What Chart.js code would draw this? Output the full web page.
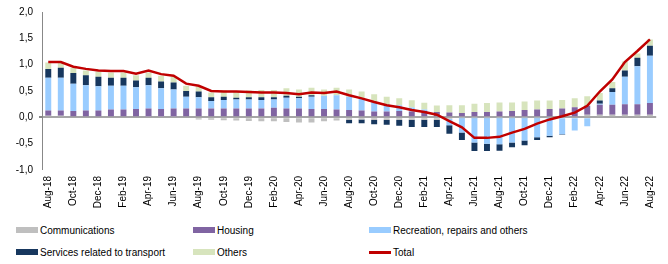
<!DOCTYPE html>
<html>
<head>
<meta charset="utf-8">
<script src="https://cdn.jsdelivr.net/npm/chart.js@4.4.1/dist/chart.umd.min.js"></script>
<style>
  html, body { margin: 0; padding: 0; background: #fff; }
  #wrap { position: relative; width: 668px; height: 264px; }
  #chartBox { position: absolute; left: 0; top: 0; width: 668px; height: 214px; }
  .lg { position: absolute; display: flex; align-items: center; height: 12px;
        font: 10px "Liberation Sans", Arial, sans-serif; color: #000; white-space: nowrap; }
  .lg .sw { width: 22px; height: 6px; margin-right: 2px; }
</style>
</head>
<body>
<div id="wrap">
  <div id="chartBox"><canvas id="chart"></canvas></div>
  <div id="legend"></div>
</div>
<script>
const months = ['Aug-18','Sep-18','Oct-18','Nov-18','Dec-18','Jan-19','Feb-19','Mar-19','Apr-19','May-19','Jun-19','Jul-19',
  'Aug-19','Sep-19','Oct-19','Nov-19','Dec-19','Jan-20','Feb-20','Mar-20','Apr-20','May-20','Jun-20','Jul-20',
  'Aug-20','Sep-20','Oct-20','Nov-20','Dec-20','Jan-21','Feb-21','Mar-21','Apr-21','May-21','Jun-21','Jul-21',
  'Aug-21','Sep-21','Oct-21','Nov-21','Dec-21','Jan-22','Feb-22','Mar-22','Apr-22','May-22','Jun-22','Jul-22','Aug-22'];

const communications = [0.03,0.03,0.02,0.02,0.02,0.02,0.02,0.02,0.01,0.01,0.01,0.00,
  -0.04,-0.045,-0.055,-0.06,-0.07,-0.075,-0.075,-0.09,-0.10,-0.10,-0.075,-0.06,
  -0.05,-0.04,-0.05,-0.05,-0.05,-0.045,-0.045,-0.045,-0.03,-0.01,-0.01,-0.01,
  -0.01,-0.01,-0.01,-0.01,-0.01,0.00,0.02,0.05,0.05,0.05,0.05,0.05,0.05];

const housing = [0.10,0.10,0.10,0.11,0.11,0.13,0.13,0.14,0.16,0.15,0.16,0.17,
  0.17,0.17,0.17,0.17,0.17,0.17,0.18,0.17,0.17,0.16,0.16,0.15,
  0.14,0.13,0.11,0.11,0.12,0.11,0.12,0.10,0.09,0.08,0.10,0.10,
  0.11,0.12,0.14,0.15,0.16,0.17,0.17,0.17,0.19,0.19,0.20,0.20,0.22];

const recreation = [0.62,0.62,0.52,0.48,0.46,0.45,0.45,0.41,0.44,0.39,0.36,0.22,
  0.21,0.14,0.16,0.17,0.17,0.16,0.16,0.20,0.19,0.23,0.25,0.27,
  0.25,0.22,0.19,0.14,0.11,0.075,0.03,0.00,-0.12,-0.28,-0.47,-0.49,
  -0.50,-0.47,-0.43,-0.37,-0.34,-0.32,-0.25,-0.17,0.02,0.24,0.52,0.72,0.90];

const transport = [0.17,0.19,0.20,0.19,0.18,0.15,0.15,0.13,0.14,0.13,0.13,0.11,
  0.11,0.07,0.06,0.03,0.04,0.05,0.04,0.04,0.03,0.03,0.00,0.00,
  -0.06,-0.07,-0.08,-0.09,-0.11,-0.14,-0.14,-0.14,-0.16,-0.14,-0.16,-0.14,
  -0.125,-0.09,-0.09,-0.05,-0.03,-0.01,0.00,0.00,0.06,0.07,0.12,0.16,0.19];

const others = [0.12,0.10,0.10,0.09,0.10,0.10,0.10,0.10,0.10,0.11,0.11,0.10,
  0.09,0.09,0.12,0.13,0.13,0.14,0.14,0.14,0.14,0.14,0.12,0.14,
  0.14,0.14,0.14,0.14,0.13,0.14,0.125,0.125,0.14,0.15,0.16,0.17,
  0.17,0.16,0.16,0.17,0.16,0.16,0.17,0.18,0.14,0.12,0.17,0.08,0.12];

const total = [1.05,1.05,0.96,0.92,0.89,0.88,0.88,0.83,0.89,0.82,0.79,0.64,
  0.60,0.50,0.49,0.49,0.48,0.47,0.47,0.46,0.44,0.47,0.46,0.49,
  0.42,0.36,0.29,0.23,0.19,0.14,0.10,0.05,-0.07,-0.19,-0.39,-0.39,
  -0.37,-0.29,-0.22,-0.12,-0.04,0.02,0.09,0.22,0.49,0.72,1.05,1.26,1.48];

const yTicks = [-1.0, -0.5, 0.0, 0.5, 1.0, 1.5, 2.0];

const font = { family: '"Liberation Sans", Arial, sans-serif', size: 10 };

const bar = (label, data, color) => ({
  type: 'bar', label, data, backgroundColor: color, stack: 'bars', order: 1,
  categoryPercentage: 0.5, barPercentage: 0.95
});

const chart = new Chart(document.getElementById('chart'), {
  data: {
    labels: months,
    datasets: [
      bar('Communications', communications, '#BFBFBF'),
      bar('Housing', housing, '#8064A2'),
      bar('Recreation, repairs and others', recreation, '#99CCFF'),
      bar('Services related to transport', transport, '#17375E'),
      bar('Others', others, '#D7E4BD'),
      {
        type: 'line', label: 'Total', data: total, stack: 'line', order: 0,
        borderColor: '#C00000', borderWidth: 2.5, pointRadius: 0, tension: 0, fill: false
      }
    ]
  },
  options: {
    responsive: true,
    maintainAspectRatio: false,
    animation: false,
    layout: { padding: { top: 9, right: 7, left: 0, bottom: 0 } },
    plugins: { legend: { display: false }, tooltip: { enabled: false } },
    scales: {
      x: {
        stacked: true,
        grid: { display: false, drawTicks: false },
        border: { display: false },
        ticks: {
          autoSkip: false, minRotation: 90, maxRotation: 90, padding: 6,
          color: '#000', font,
          callback: (v, i) => (i % 2 === 0 ? months[i] : '')
        },
        afterFit: s => { s.height = 44; }
      },
      y: {
        stacked: true,
        min: -1, max: 2,
        z: 1,
        afterBuildTicks: s => { s.ticks = yTicks.map(v => ({ value: v })); },
        afterFit: s => { s.width = 42; },
        grid: {
          color: c => (c.tick && c.tick.value === 0 ? '#A6A6A6' : 'rgba(0,0,0,0)'),
          lineWidth: c => (c.tick && c.tick.value === 0 ? 2 : 0),
          tickColor: '#888', tickLength: 3, drawTicks: true
        },
        border: { display: true, color: '#888', width: 1 },
        ticks: {
          color: '#000', font, padding: 6,
          callback: v => v.toFixed(1).replace('.', ',')
        }
      }
    }
  }
});

// legend in three columns, two rows, like the original
const legend = document.getElementById('legend');
const cols = [16, 193, 369];
const rows = [224, 246];
chart.data.datasets.forEach((ds, i) => {
  const item = document.createElement('div');
  item.className = 'lg';
  item.style.left = cols[i % 3] + 'px';
  item.style.top = rows[Math.floor(i / 3)] + 'px';
  const sw = document.createElement('span');
  sw.className = 'sw';
  if (ds.type === 'line') {
    sw.style.height = '3px';
    sw.style.background = ds.borderColor;
  } else {
    sw.style.background = ds.backgroundColor;
  }
  item.appendChild(sw);
  item.appendChild(document.createTextNode(ds.label));
  legend.appendChild(item);
});
</script>
</body>
</html>
